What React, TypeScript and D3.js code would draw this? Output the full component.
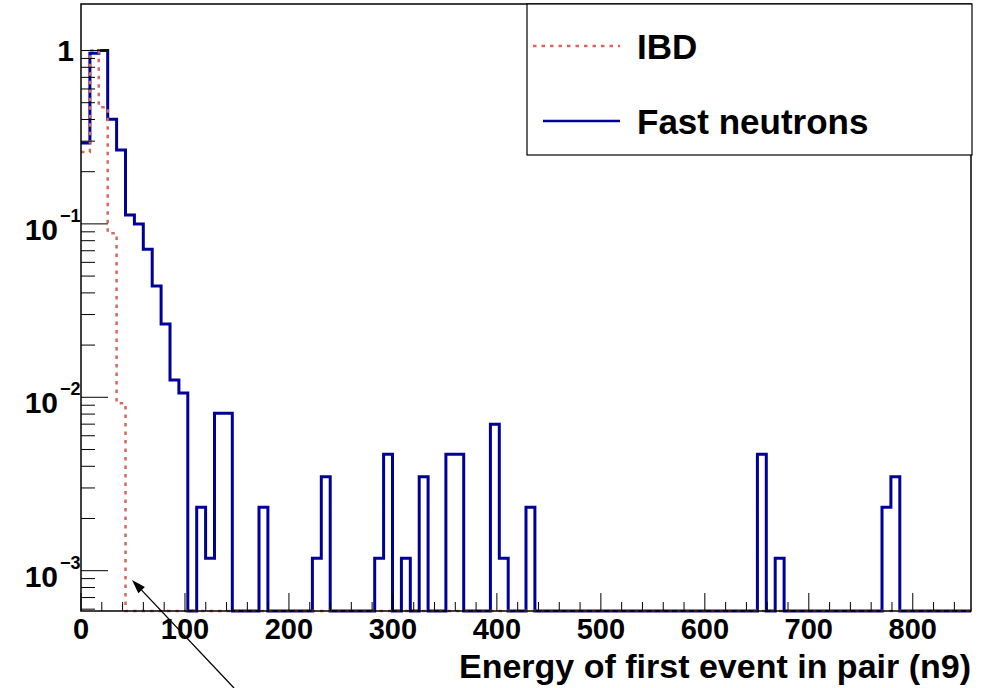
import React from 'react';
import * as d3 from 'd3';

// histogram: 100 bins from 0 to X_MAX
const X_MAX = 856;
const N_BINS = 100;

// non-empty bins (index, normalised height)
const fastBins = [0, 1, 2, 3, 4, 5, 6, 7, 8, 9, 10, 11, 13, 14, 15, 16, 20, 26, 27, 33, 34, 36, 38, 41, 42, 46, 47, 50, 76, 78, 90, 91];
const fastValues = [0.293, 0.965, 1.0, 0.401, 0.267, 0.1125, 0.1, 0.0714, 0.0438, 0.0265, 0.0126, 0.0106, 0.00232, 0.00118, 0.00809, 0.00809, 0.00232, 0.00118, 0.00348, 0.00118, 0.00469, 0.00118, 0.00348, 0.00469, 0.00469, 0.00699, 0.00118, 0.00232, 0.00469, 0.00118, 0.00232, 0.00348];

const ibdBins = [0, 1, 2, 3, 4];
const ibdValues = [0.26, 1.0, 0.47, 0.0883, 0.00923];

const xTicks = [0, 100, 200, 300, 400, 500, 600, 700, 800];
const yDecades = [1, 0.1, 0.01, 0.001];
const yExponents = ['', '−1', '−2', '−3'];

const Y_MIN = 5.855e-4;
const Y_MAX = 1.854;

const W = 986;
const H = 688;
const frame = { left: 81, right: 971, top: 4, bottom: 611 };

const fill = (bins: number[], vals: number[]) => {
  const out = new Array(N_BINS).fill(0);
  bins.forEach((b, i) => { out[b] = vals[i]; });
  return out;
};

const App = () => {
  const x = d3.scaleLinear().domain([0, X_MAX]).range([frame.left, frame.right]);
  const y = d3.scaleLog().domain([Y_MIN, Y_MAX]).range([frame.bottom, frame.top]);
  const bw = X_MAX / N_BINS;

  const stepPath = (vals: number[]) => {
    const pts: [number, number][] = vals.map((v, i) => [x(i * bw), v > 0 ? y(v) : frame.bottom]);
    pts.push([x(X_MAX), pts[pts.length - 1][1]]);
    return d3.line().curve(d3.curveStepAfter)(pts) || '';
  };

  const fast = fill(fastBins, fastValues);
  const ibd = fill(ibdBins, ibdValues);

  const minorX = d3.range(0, X_MAX + 0.1, 20).filter(v => v % 100 !== 0);
  const minorY: number[] = [];
  [0.0001, 0.001, 0.01, 0.1, 1].forEach(d => {
    for (let k = 2; k <= 9; k++) {
      const v = d * k;
      if (v > Y_MIN && v < Y_MAX) minorY.push(v);
    }
  });

  const font = '"Liberation Sans", Arial, Helvetica, sans-serif';
  const blue = '#000099';
  const red = '#d5695f';

  // arrow
  const tip = [132, 580];
  const tail = [234, 688];
  const ang = Math.atan2(tail[1] - tip[1], tail[0] - tip[0]);
  const hl = 14, hw = 4.5;
  const bx = tip[0] + hl * Math.cos(ang), by = tip[1] + hl * Math.sin(ang);
  const head = [
    tip,
    [bx - hw * Math.sin(ang), by + hw * Math.cos(ang)],
    [bx + hw * Math.sin(ang), by - hw * Math.cos(ang)],
  ];

  return (
    <svg width={W} height={H} style={{ position: 'absolute', left: 0, top: 0, background: '#fff' }} fontFamily={font}>
      <rect x={0} y={0} width={W} height={H} fill="#fff" />

      {/* histograms */}
      <path d={stepPath(fast)} fill="none" stroke={blue} strokeWidth={3} />
      <path d={stepPath(ibd)} fill="none" stroke={red} strokeWidth={2.5} strokeDasharray="3.5,5" />

      {/* x ticks */}
      {xTicks.map(t => (
        <g key={'xt' + t}>
          <line x1={x(t)} x2={x(t)} y1={frame.bottom} y2={frame.bottom - 18} stroke="#000" />
          <text x={x(t)} y={639} textAnchor="middle" fontSize={29} fontWeight="bold">{t}</text>
        </g>
      ))}
      {minorX.map(t => (
        <line key={'xm' + t} x1={x(t)} x2={x(t)} y1={frame.bottom} y2={frame.bottom - 9} stroke="#000" />
      ))}

      {/* y ticks */}
      {yDecades.map((d, i) => (
        <g key={'yt' + d}>
          <line x1={frame.left} x2={frame.left + 27} y1={y(d)} y2={y(d)} stroke="#000" />
          {i === 0 ? (
            <text x={74} y={y(d) + 11} textAnchor="end" fontSize={30} fontWeight="bold">1</text>
          ) : (
            <text x={58} y={y(d) + 16} textAnchor="end" fontSize={30} fontWeight="bold">
              10
              <tspan x={60} y={y(d) - 2} textAnchor="start" fontSize={18}>{yExponents[i]}</tspan>
            </text>
          )}
        </g>
      ))}
      {minorY.map(v => (
        <line key={'ym' + v} x1={frame.left} x2={frame.left + 14} y1={y(v)} y2={y(v)} stroke="#000" />
      ))}

      {/* frame */}
      <rect x={frame.left} y={frame.top} width={frame.right - frame.left} height={frame.bottom - frame.top}
        fill="none" stroke="#000" strokeWidth={1.5} />

      {/* axis title */}
      <text x={frame.right} y={678} textAnchor="end" fontSize={34} fontWeight="bold">Energy of first event in pair (n9)</text>

      {/* legend */}
      <rect x={527} y={4} width={445} height={151} fill="#fff" stroke="#000" strokeWidth={1.2} />
      <line x1={533} x2={620} y1={46} y2={46} stroke={red} strokeWidth={2.5} strokeDasharray="3.5,5" />
      <text x={637} y={59} fontSize={35} fontWeight="bold">IBD</text>
      <line x1={543} x2={620} y1={121} y2={121} stroke={blue} strokeWidth={2.5} />
      <text x={637} y={134} fontSize={35} fontWeight="bold">Fast neutrons</text>

      {/* arrow */}
      <line x1={tail[0]} y1={tail[1]} x2={bx} y2={by} stroke="#000" strokeWidth={1.3} />
      <polygon points={head.map(p => p.join(',')).join(' ')} fill="#000" />
    </svg>
  );
};

export default App;
